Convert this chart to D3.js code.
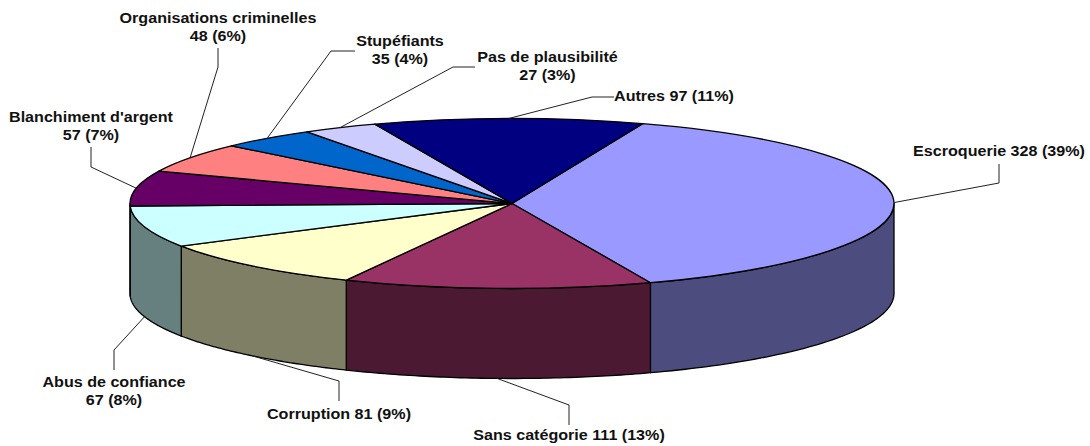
<!DOCTYPE html>
<html>
<head>
<meta charset="utf-8">
<script src="https://cdn.jsdelivr.net/npm/d3@7"></script>
<style>
  html, body { margin: 0; background: #fff; }
  svg { display: block; }
  text { font-family: "Liberation Sans", Arial, sans-serif; font-weight: bold; font-size: 14px; fill: #111; }
</style>
</head>
<body>
<div id="chart"></div>
<script>
const categories = ['Escroquerie', 'Sans catégorie', 'Corruption', 'Abus de confiance', "Blanchiment d'argent",
  'Organisations criminelles', 'Stupéfiants', 'Pas de plausibilité', 'Autres'];
const values = [328, 111, 81, 67, 57, 48, 35, 27, 97];
const percents = [39, 13, 9, 8, 7, 6, 4, 3, 11];
const topColors = ['#9999ff', '#993366', '#ffffcc', '#ccffff', '#660066', '#ff8080', '#0066cc', '#ccccff', '#000080'];
const sideColors = ['#4c4c7f', '#4c1933', '#7f7f66', '#667f7f', '#330033', '#7f4040', '#003366', '#66667f', '#000040'];

// where each label sits: elbow of the leader, end of the leader, text anchor and line breaks
const labelLayout = [
  { elbow: [999, 183], end: [999, 164], x: 999, y: [156], oneLine: true },
  { elbow: [569, 405], end: [569, 425], x: 569, y: [440], oneLine: true },
  { elbow: [339, 381], end: [339, 401], x: 339, y: [419], oneLine: true },
  { elbow: [114, 350], end: [114, 370], x: 114, y: [387, 405] },
  { elbow: [91, 167], end: [91, 147], x: 91, y: [122, 140] },
  { elbow: [218, 67], end: [218, 48], x: 218, y: [23, 41] },
  { elbow: [331, 51], end: [355, 51], x: 400, y: [46, 64] },
  { elbow: [453, 67], end: [475, 67], x: 547.5, y: [62, 80] },
  { elbow: [592, 97], end: [614, 97], x: 614, y: [101], oneLine: true, left: true }
];

const width = 1090, height = 446;
const cx = 512, cy = 203.5, rx = 382, ry = 85, depth = 90;
const startAngle = 20 * Math.PI / 180;
const textStretch = 1.15; // the reference text is wider than the font

const px = d3.scaleLinear().domain([-1, 1]).range([cx - rx, cx + rx]);
const py = d3.scaleLinear().domain([-1, 1]).range([cy - ry, cy + ry]);
const pointAt = a => [px(Math.sin(a)), py(-Math.cos(a))];

const pie = d3.pie().sort(null).startAngle(startAngle).endAngle(startAngle + 2 * Math.PI);
const slices = pie(values);

const svg = d3.select('#chart').append('svg')
    .attr('width', width)
    .attr('height', height);

// side wall, only the part of a slice that faces the viewer (90 to 270 degrees)
const side = d3.area()
    .x(a => pointAt(a)[0])
    .y0(a => pointAt(a)[1])
    .y1(a => pointAt(a)[1] + depth);

const front = slices.map(d => {
  const a0 = Math.max(d.startAngle, Math.PI / 2);
  const a1 = Math.min(d.endAngle, 3 * Math.PI / 2);
  return { index: d.index, a0, a1 };
}).filter(d => d.a1 > d.a0);

svg.append('g').selectAll('path')
  .data(front)
  .join('path')
    .attr('d', d => side(d3.range(0, 61).map(i => d.a0 + (d.a1 - d.a0) * i / 60)))
    .attr('fill', d => sideColors[d.index])
    .attr('stroke', '#000')
    .attr('stroke-width', 1.3)
    .attr('stroke-linejoin', 'round');

// top face: a flat d3 pie squashed into an ellipse
const arc = d3.arc().innerRadius(0).outerRadius(rx);

svg.append('g')
    .attr('transform', `translate(${cx},${cy}) scale(1,${ry / rx})`)
  .selectAll('path')
  .data(slices)
  .join('path')
    .attr('d', arc)
    .attr('fill', d => topColors[d.index])
    .attr('stroke', '#000')
    .attr('stroke-width', 1.3)
    .attr('stroke-linejoin', 'round')
    .attr('vector-effect', 'non-scaling-stroke');

// leaders start on the rim at the middle of the slice
const leader = d3.line();
svg.append('g').selectAll('path')
  .data(slices)
  .join('path')
    .attr('d', d => {
      const mid = (d.startAngle + d.endAngle) / 2;
      const p = pointAt(mid);
      if (Math.cos(mid) < 0) p[1] += depth;
      const l = labelLayout[d.index];
      return leader([p, l.elbow, l.end]);
    })
    .attr('fill', 'none')
    .attr('stroke', '#222')
    .attr('stroke-width', 1);

const labels = svg.append('g').selectAll('text')
  .data(slices)
  .join('text')
    .attr('text-anchor', d => labelLayout[d.index].left ? 'start' : 'middle');

labels.each(function(d) {
  const l = labelLayout[d.index];
  const name = categories[d.index];
  const count = `${values[d.index]} (${percents[d.index]}%)`;
  const lines = l.oneLine ? [`${name} ${count}`] : [name, count];
  d3.select(this).selectAll('tspan')
    .data(lines)
    .join('tspan')
      .attr('x', l.x)
      .attr('y', (_, i) => l.y[i])
      .text(t => t)
      .attr('lengthAdjust', 'spacingAndGlyphs')
      .attr('textLength', function() { return this.getComputedTextLength() * textStretch; });
});
</script>
</body>
</html>
